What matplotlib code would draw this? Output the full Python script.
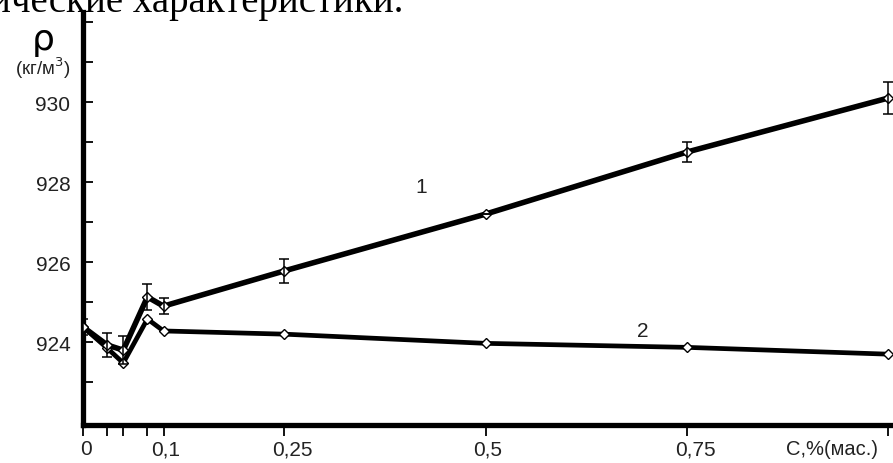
import matplotlib.pyplot as plt
from matplotlib.transforms import offset_copy, blended_transform_factory

# concentration, % (mass)
conc = [0, 0.03, 0.05, 0.08, 0.1, 0.25, 0.5, 0.75, 1.0]
rho_1 = [924.38, 923.93, 923.8, 925.13, 924.9, 925.78, 927.2, 928.75, 930.1]
err_1 = [0.2, 0.3, 0.35, 0.33, 0.2, 0.3, 0.0, 0.25, 0.4]
rho_2 = [924.38, 923.85, 923.48, 924.58, 924.28, 924.2, 923.97, 923.87, 923.7]

x_major = [0.1, 0.25, 0.5, 0.75]
x_major_labels = ['0,1', '0,25', '0,5', '0,75']
x_minor = [0.03, 0.05, 0.08, 1.0]
y_major = [924, 926, 928, 930]
y_minor = [923, 925, 927, 929, 931, 932]

fig = plt.figure(figsize=(8.93, 4.64), dpi=100)
ax = fig.add_axes([83 / 893, 1 - 426 / 464, 1 - 83 / 893, (426 - 13) / 464])

ax.plot(conc, rho_2, color='black', lw=3.4, marker='D', ms=5,
        mfc='white', mec='black', mew=1.0, zorder=3)
ax.plot(conc, rho_1, color='black', lw=4.0, marker='D', ms=5,
        mfc='white', mec='black', mew=1.0, zorder=4)
ax.errorbar(conc, rho_1, yerr=err_1, fmt='none', ecolor='black',
            elinewidth=1.1, capsize=3.5, capthick=1.1, zorder=5)

ax.set_xlim(0, 1.006)
ax.set_ylim(921.93, 932.25)

for side in ['top', 'right']:
    ax.spines[side].set_visible(False)
for side in ['left', 'bottom']:
    ax.spines[side].set_linewidth(3.8)

ax.set_yticks(y_major)
ax.set_yticks(y_minor, minor=True)
ax.set_yticklabels([str(v) for v in y_major], fontsize=15, color='#222222',
                   family='Liberation Sans')
ax.tick_params(axis='y', which='both', direction='in', length=7, width=1.3,
               pad=9)

ax.set_xticks([0] + x_major)
ax.set_xticks(x_minor, minor=True)
ax.set_xticklabels([])
ax.tick_params(axis='x', which='both', direction='out', length=8, width=1.3)

# tick labels with the tick running through the comma
trans = blended_transform_factory(ax.transData, ax.transAxes)
ax.text(0.0, -0.035, '0', transform=offset_copy(trans, fig, x=3, units='dots'),
        ha='center', va='top', fontsize=15, color='#222222',
        family='Liberation Sans')
for xv, lab in zip(x_major, x_major_labels):
    ax.text(xv, -0.035, lab, transform=offset_copy(trans, fig, x=-12, units='dots'),
            ha='left', va='top', fontsize=15, color='#222222',
            family='Liberation Sans')
ax.text(0.987, -0.035, 'С,%(мас.)', transform=trans, ha='right', va='top',
        fontsize=14.5, color='#222222', family='Liberation Sans')

# curve numbers
ax.text(0.42, 927.9, '1', fontsize=15, color='#222222', family='Liberation Sans',
        ha='center', va='center')
ax.text(0.695, 924.3, '2', fontsize=15, color='#222222', family='Liberation Sans',
        ha='center', va='center')

# axis title
fig.text(43 / 893, 1 - 40 / 464, 'ρ', fontsize=26, ha='center', va='center',
         family='DejaVu Sans')
fig.text(43 / 893, 1 - 68 / 464, '(кг/м$^3$)', fontsize=13.5, ha='center',
         va='center', family='Liberation Sans', color='#222222')

# cropped line of text from the page above
fig.text(403 / 893, 1 - 12 / 464, 'ические характеристики.', fontsize=28,
         ha='right', va='baseline', family='Liberation Serif')

fig.savefig('out.png', dpi=100)
